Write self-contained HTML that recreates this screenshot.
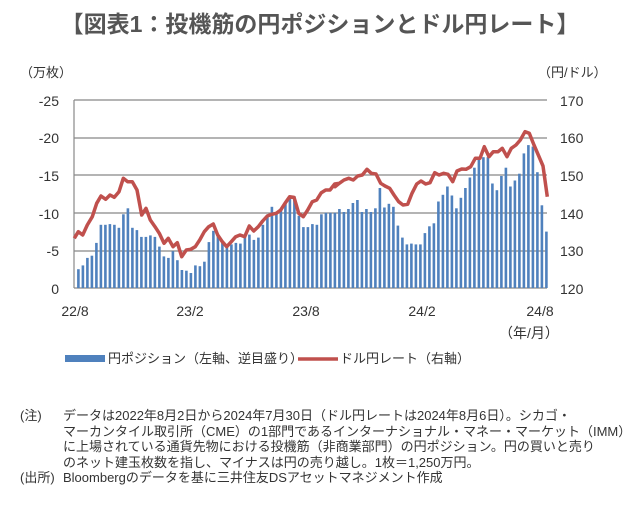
<!DOCTYPE html>
<html><head><meta charset="utf-8"><style>
body{margin:0;background:#fff;width:640px;height:508px;overflow:hidden;font-family:"Liberation Sans","Noto Sans CJK JP",sans-serif;color:#333}
.t{position:absolute}
</style></head><body>
<div class="t" style="left:0;top:5px;width:640px;text-align:center;font-size:23px;font-weight:bold;color:#555;letter-spacing:0px">【図表1：投機筋の円ポジションとドル円レート】</div>
<svg width="640" height="508" style="position:absolute;left:0;top:0" id="s">
<g font-size="14" fill="#333" font-family="Liberation Sans, Noto Sans CJK JP, sans-serif">
<text x="20" y="77" font-size="13">（万枚）</text>
<text x="538" y="77" font-size="13">（円/ドル）</text>
<g text-anchor="end">
<text x="59" y="106">-25</text><text x="59" y="143">-20</text><text x="59" y="181">-15</text><text x="59" y="219">-10</text><text x="59" y="256">-5</text><text x="59" y="294">0</text>
</g>
<g>
<text x="560" y="106">170</text><text x="560" y="143">160</text><text x="560" y="181">150</text><text x="560" y="219">140</text><text x="560" y="256">130</text><text x="560" y="294">120</text>
</g>
<g text-anchor="middle">
<text x="75" y="316">22/8</text><text x="190" y="316">23/2</text><text x="306" y="316">23/8</text><text x="422" y="316">24/2</text><text x="540" y="316">24/8</text>
<text x="529" y="338">（年/月）</text>
</g>
<text x="108" y="363" font-size="13">円ポジション（左軸、逆目盛り）</text>
<text x="340" y="363" font-size="13">ドル円レート（右軸）</text>
</g>
<rect x="65" y="355" width="40" height="7" fill="#4f81bd"/>
<line x1="298" y1="359" x2="338" y2="359" stroke="#c0504d" stroke-width="3.5"/>
<g stroke="#888" stroke-width="1.2">
<line x1="74" y1="100" x2="547" y2="100"/><line x1="74" y1="138" x2="547" y2="138"/><line x1="74" y1="175" x2="547" y2="175"/><line x1="74" y1="213" x2="547" y2="213"/><line x1="74" y1="251" x2="547" y2="251"/><line x1="74" y1="288" x2="547" y2="288"/><line x1="74" y1="100" x2="74" y2="288"/>
</g>
<g id="bars" fill="#4f81bd"></g>
<polyline id="ln" fill="none" stroke="#c0504d" stroke-width="3.5" stroke-linejoin="round"/>
</svg>
<div class="t" style="left:20px;top:408px;font-size:13px;line-height:15.5px;color:#333">
<div style="position:absolute;left:0;top:0;width:40px">(注)</div>
<div style="position:absolute;left:0;top:62px;width:50px">(出所)</div>
<div style="position:absolute;left:43px;top:0;width:590px;white-space:nowrap">データは2022年8月2日から2024年7月30日（ドル円レートは2024年8月6日）。シカゴ・<br>マーカンタイル取引所（CME）の1部門であるインターナショナル・マネー・マーケット（IMM）<br>に上場されている通貨先物における投機筋（非商業部門）の円ポジション。円の買いと売り<br>のネット建玉枚数を指し、マイナスは円の売り越し。1枚＝1,250万円。<br>Bloombergのデータを基に三井住友DSアセットマネジメント作成</div>
</div>
<script>
var v=[2.5,3,4,4.3,6,8.4,8.4,8.5,8.4,8,9.8,10.6,8,7.7,6.8,6.8,7,6.8,5.5,4.2,4,4.9,3.7,2.4,2.3,2,3,2.9,3.5,6.1,7.6,7,6,5.6,5.8,6,5.9,7,7.1,6.4,6.7,8.4,9.7,10.8,9.9,10.6,11.2,12,12.2,9.6,8.1,8.1,8.5,8.4,9.8,10,10,10,10.5,
10.1,10.5,11.3,11.7,10.1,10.5,10.1,10.6,13.3,10.7,11.2,10.8,8.3,6.7,5.8,5.9,5.8,5.8,7.3,8.2,8.6,11.5,12.4,13.5,12.3,10.6,12,13.3,14.7,16,17.4,17.4,17.4,13.9,13,14.9,16,13.5,14.3,15.2,17.9,19,18.8,15.4,11,7.5];
var g=document.getElementById('bars'),h='';
for(var i=0;i<v.length;i++){var x=78.3+i*4.5,hh=v[i]*7.52;h+='<rect x="'+(x-1.2).toFixed(1)+'" y="'+(288-hh).toFixed(1)+'" width="2.6" height="'+hh.toFixed(1)+'"/>';}
g.innerHTML=h;
var a=[[103,385],[115,365],[128,375],[142,345],[157,320],[170,280],[183,258],[197,268],[210,255],[223,262],[237,245],[250,205],[263,215],[277,215],[291,240],[305,315],[318,295],[331,330],[345,350],[358,370],[372,400],[385,385],[399,410],[412,398],[425,440],[439,420],[452,418],[466,410],[479,390],[493,365],[506,350],[520,342],[533,375],[547,395],[560,410],[574,395],[587,380],[600,375],[614,380],[628,348],[641,363],[655,350],[668,333],[682,318],[695,313],[709,310],[722,300],[735,280],[749,260],[762,262],[776,310],[790,320],[803,300],[817,275],[830,270],[844,248],[857,240],[870,240],[884,222],[897,220]];
var b=[[15,230],[28,220],[42,210],[56,205],[70,210],[83,198],[97,195],[111,178],[124,190],[138,192],[152,220],[165,228],[179,235],[192,255],[206,275],[219,285],[233,283],[246,250],[260,222],[273,213],[287,222],[300,218],[314,188],[327,195],[341,190],[354,193],[368,215],[381,183],[395,177],[408,178],[422,170],[436,145],[450,145],[463,110],[477,140],[490,125],[504,125],[517,115],[531,140],[544,115],[558,105],[571,90],[585,65],[598,70],[612,105],[625,135],[639,168],[652,260]];
var p=[];a.forEach(function(q){p.push((40+q[0]/3).toFixed(1)+','+(110+q[1]/3).toFixed(1))});
b.forEach(function(q){p.push((330+q[0]/3).toFixed(1)+','+(110+q[1]/3).toFixed(1))});
document.getElementById('ln').setAttribute('points',p.join(' '));
</script>
</body></html>
